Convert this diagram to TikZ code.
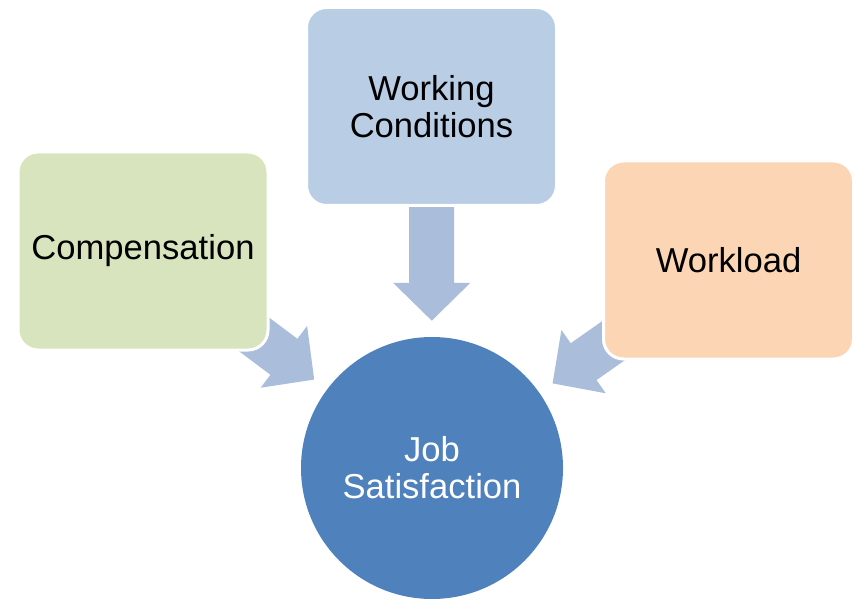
\documentclass[tikz,border=0pt]{standalone}
\usepackage{fontspec}
\setmainfont{Liberation Sans}
\usetikzlibrary{arrows.meta,backgrounds}
\definecolor{compgreen}{HTML}{D7E4BD}
\definecolor{condblue}{HTML}{B9CDE5}
\definecolor{loadorange}{HTML}{FCD5B5}
\definecolor{jobblue}{HTML}{4F81BD}
\definecolor{flowblue}{HTML}{AABEDC}
\tikzset{
    factor/.style={rectangle, rounded corners=20pt, draw=white, line width=3pt,
        minimum width=250pt, minimum height=198pt, align=center,
        font=\fontsize{34.6}{37}\selectfont},
    result/.style={circle, fill=jobblue, minimum size=262pt, inner sep=0pt,
        align=center, text=white, font=\fontsize{34.6}{37}\selectfont},
    flow/.style={draw=flowblue, line width=45pt,
        -{Triangle[length=38pt,width=75pt]}, shorten >=16pt}
}

\begin{document}
\begin{tikzpicture}[x=1pt,y=1pt]
    \useasboundingbox (0,0) rectangle (856,598);
    \node[result] (js) at (432,130) {Job\\Satisfaction};
    \node[factor, fill=compgreen] (comp) at (143,347) {Compensation};
    \node[factor, fill=condblue] (cond) at (431.5,491.5) {Working\\Conditions};
    \node[factor, fill=loadorange] (load) at (728.5,338) {Workload};
    \begin{pgfonlayer}{background}
        \draw[flow] (comp.center) -- (js);
        \draw[flow] (cond.center) -- (js);
        \draw[flow] (load.center) -- (js);
    \end{pgfonlayer}
\end{tikzpicture}
\end{document}
